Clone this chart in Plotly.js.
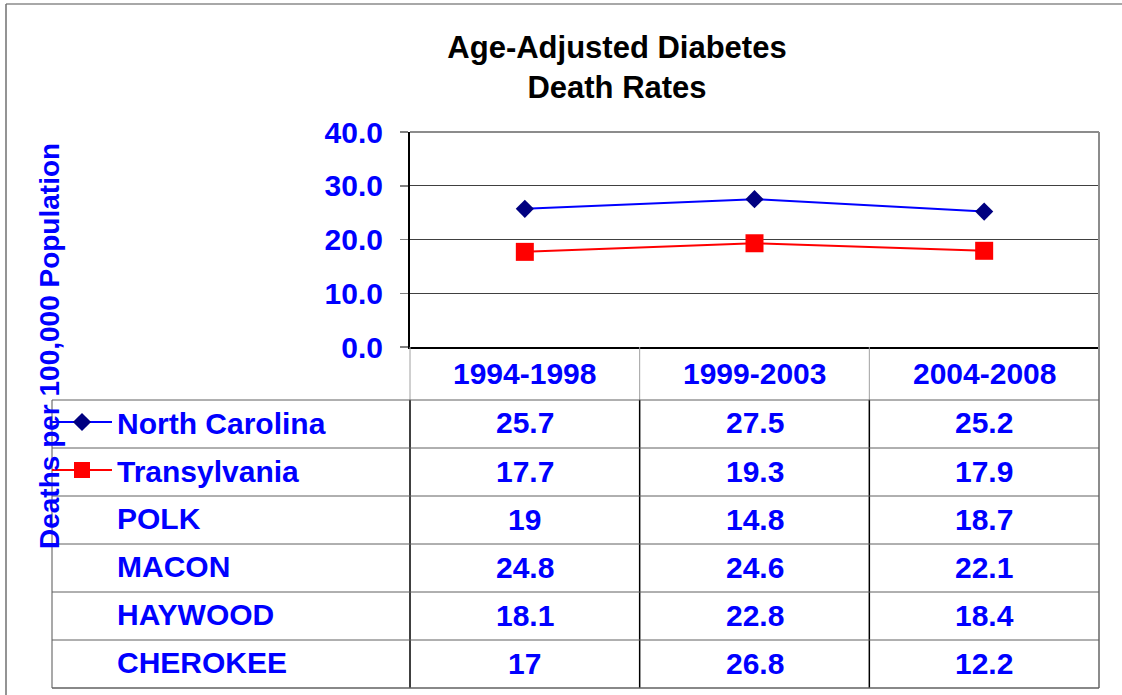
<!DOCTYPE html>
<html>
<head>
<meta charset="utf-8">
<script src="https://cdn.plot.ly/plotly-3.0.1.min.js"></script>
<style>html,body{margin:0;padding:0;background:#fff;}#chart{width:1122px;height:695px;}</style>
</head>
<body>
<div id="chart"></div>
<script>
// ---- data ----
var periods = ['1994-1998', '1999-2003', '2004-2008'];
var northCarolina = [25.7, 27.5, 25.2];
var transylvania = [17.7, 19.3, 17.9];
var polk = [19, 14.8, 18.7];
var macon = [24.8, 24.6, 22.1];
var haywood = [18.1, 22.8, 18.4];
var cherokee = [17, 26.8, 12.2];
var rowNames = ['North Carolina', 'Transylvania', 'POLK', 'MACON', 'HAYWOOD', 'CHEROKEE'];
var rowValues = [northCarolina, transylvania, polk, macon, haywood, cherokee];
var yTicks = [0, 10, 20, 30, 40];

// ---- geometry helpers (pixel -> paper; margins are zero so paper = whole figure) ----
var W = 1122, H = 695;
function px(x) { return x / W; }
function py(y) { return 1 - y / H; }
var FONT = 'Liberation Sans, Arial, Helvetica, sans-serif';
var BLUE = '#0000FF';
var plotL = 410, plotR = 1099, plotT = 132, plotB = 347;
var tableL = 52, headerB = 400, rowH = 48;
var colW = (plotR - plotL) / periods.length;

var traces = [
  {
    x: periods, y: northCarolina, name: rowNames[0], type: 'scatter', mode: 'lines+markers',
    line: {color: '#0000FF', width: 2},
    marker: {symbol: 'diamond', size: 14, color: '#000080', line: {width: 0}},
    legendgroup: 'a', hoverinfo: 'x+y'
  },
  {
    x: periods, y: transylvania, name: rowNames[1], type: 'scatter', mode: 'lines+markers',
    line: {color: '#FF0000', width: 2},
    marker: {symbol: 'square', size: 18, color: '#FF0000', line: {width: 0}},
    legendgroup: 'b', hoverinfo: 'x+y'
  }
];

var shapes = [];
function hline(x0, x1, y, color, width) {
  shapes.push({type: 'line', xref: 'paper', yref: 'paper', x0: px(x0), x1: px(x1), y0: py(y), y1: py(y), line: {color: color, width: width}});
}
function vline(x, y0, y1, color, width) {
  shapes.push({type: 'line', xref: 'paper', yref: 'paper', x0: px(x), x1: px(x), y0: py(y0), y1: py(y1), line: {color: color, width: width}});
}
// outer chart border
hline(6, 1122, 4, '#A8A8A8', 2);
vline(6, 4, 695, '#707070', 1.5);
// plot area border top/right
hline(plotL, plotR, plotT, '#8C8C8C', 2);
vline(plotR, plotT, 688, '#8C8C8C', 2);
// column separators
for (var c = 1; c < periods.length; c++) {
  vline(plotL + c * colW, plotB, headerB, '#A0A0A0', 1);
  vline(plotL + c * colW, headerB, 688, '#000000', 1.5);
}
vline(plotL, plotB, headerB, '#A0A0A0', 1);
vline(plotL, headerB, 688, '#000000', 1.5);
// table rows
vline(tableL, headerB, 688, '#8C8C8C', 1.5);
for (var r = 0; r <= rowNames.length; r++) {
  hline(tableL, plotR, headerB + r * rowH, '#606060', r === rowNames.length ? 1.5 : 1);
}

var annotations = [];
// header labels
periods.forEach(function (p) {
  annotations.push({xref: 'x', yref: 'paper', x: p, y: py((plotB + headerB) / 2), text: p, showarrow: false,
    xanchor: 'center', yanchor: 'middle', font: {family: FONT, size: 30, color: BLUE, weight: 'bold'}});
});
// row labels and values
rowNames.forEach(function (name, i) {
  var yc = headerB + i * rowH + rowH / 2;
  if (i >= 2) {
    annotations.push({xref: 'paper', yref: 'paper', x: px(115), y: py(yc - 2), text: name, showarrow: false,
      xanchor: 'left', yanchor: 'middle', font: {family: FONT, size: 30, color: BLUE, weight: 'bold'}});
  }
  rowValues[i].forEach(function (v, j) {
    annotations.push({xref: 'x', yref: 'paper', x: periods[j], y: py(yc - 1), text: String(v), showarrow: false,
      xanchor: 'center', yanchor: 'middle', font: {family: FONT, size: 30, color: BLUE, weight: 'bold'}});
  });
});
// y-axis title
annotations.push({xref: 'paper', yref: 'paper', x: px(50), y: py(346), text: 'Deaths per 100,000 Population',
  textangle: -90, showarrow: false, xanchor: 'center', yanchor: 'middle',
  font: {family: FONT, size: 28, color: BLUE, weight: 'bold'}});

var layout = {
  width: W, height: H,
  paper_bgcolor: '#FFFFFF', plot_bgcolor: '#FFFFFF',
  margin: {l: 0, r: 0, t: 0, b: 0, pad: 0, autoexpand: false},
  title: {text: 'Age-Adjusted Diabetes<br>Death Rates', x: px(617), xanchor: 'center', xref: 'container',
    y: py(58), yanchor: 'middle', yref: 'container',
    font: {family: FONT, size: 31, color: '#000000', weight: 'bold'}},
  xaxis: {type: 'category', domain: [px(plotL), px(plotR)], range: [-0.5, 2.5], showgrid: false, zeroline: false, showline: true,
    linecolor: '#000000', linewidth: 1.5, ticks: '', showticklabels: false, fixedrange: true},
  yaxis: {domain: [py(plotB), py(plotT)], range: [0, 40], tickvals: yTicks, tickformat: '.1f', showgrid: true, gridcolor: '#404040', gridwidth: 1,
    zeroline: false, showline: true, linecolor: '#000000', linewidth: 2, ticks: 'outside', ticklen: 8,
    tickcolor: '#808080', tickwidth: 1.5, ticklabelstandoff: 11,
    tickfont: {family: FONT, size: 30, color: BLUE, weight: 'bold'}, fixedrange: true},
  showlegend: true,
  legend: {x: px(47), y: py(396), xanchor: 'left', yanchor: 'top', bgcolor: 'rgba(0,0,0,0)', borderwidth: 0,
    font: {family: FONT, size: 30, color: BLUE, weight: 'bold'}, tracegroupgap: 6, itemwidth: 60,
    traceorder: 'grouped', itemclick: false, itemdoubleclick: false},
  shapes: shapes,
  annotations: annotations
};

Plotly.newPlot('chart', traces, layout, {displayModeBar: false, staticPlot: true});
</script>
</body>
</html>
